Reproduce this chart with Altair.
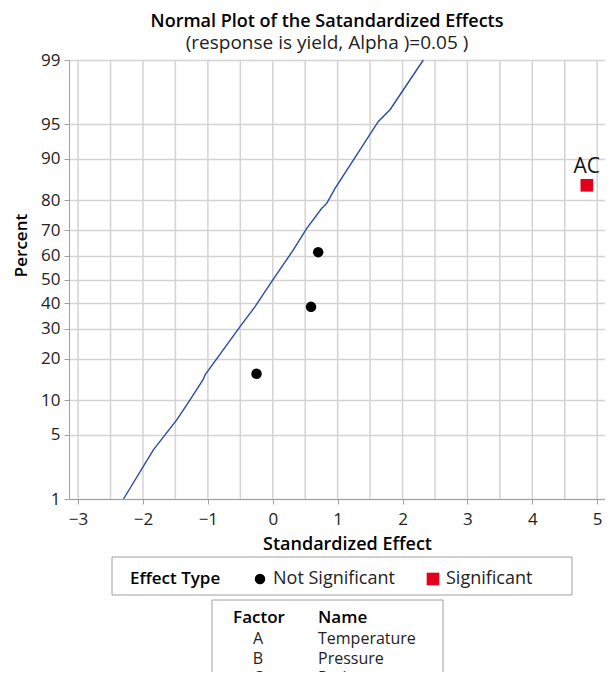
import altair as alt
import pandas as pd
from statistics import NormalDist

# ---- data ----
effects = [-0.25, 0.59, 0.70, 4.84]
percents = [15.9, 38.6, 61.4, 84.1]
effect_types = ["Not Significant", "Not Significant", "Not Significant", "Significant"]
point_labels = ["", "", "", "AC"]

line_effect = [-2.30, -1.84, -1.48, -1.305, -1.074, -1.043, -0.504, -0.273, 0.035,
               0.317, 0.524, 0.755, 0.832, 0.960, 1.627, 1.807, 2.32]
line_percent = [1.0, 3.55, 6.84, 9.55, 14.4, 15.6, 30.9, 38.7, 51.2,
                62.3, 70.6, 77.5, 79.0, 83.3, 95.3, 96.4, 99.0]

percent_ticks = [1, 5, 10, 20, 30, 40, 50, 60, 70, 80, 90, 95, 99]
x_ticks = [-3, -2, -1, 0, 1, 2, 3, 4, 5]
x_grid = [-3, -2.5, -2, -1.5, -1, -0.5, 0, 0.5, 1, 1.5, 2, 2.5, 3, 3.5, 4, 4.5, 5]

factors = ["A", "B", "C"]
factor_names = ["Temperature", "Pressure", "Ratio"]

# ---- scale helpers (probability scale) ----
nd = NormalDist()
z_ticks = [nd.inv_cdf(p / 100) for p in percent_ticks]

FONT = "Open Sans"
GRID = "#d3d3d3"
AXC = "#a0a0a0"

pts = pd.DataFrame({"effect": effects, "percent": percents,
                    "type": effect_types, "label": point_labels})
ln = pd.DataFrame({"effect": line_effect, "percent": line_percent,
                   "i": list(range(len(line_effect)))})
gr = pd.DataFrame({"g": x_grid})
one = pd.DataFrame({"a": [0]})

xscale = alt.Scale(domain=[-3.14, 5.12], nice=False, zero=False)
yscale = alt.Scale(domain=[z_ticks[0], z_ticks[-1]], nice=False, zero=False)

xaxis = alt.Axis(values=x_ticks, grid=False, title="Standardized Effect",
                 labelFontSize=17, titleFontSize=18, titleFontWeight=600,
                 tickSize=5, labelPadding=7, titlePadding=8,
                 titleX=278, titleAnchor="start", titleAlign="center",
                 domainColor=AXC, tickColor=AXC, labelColor="#222", titleColor="#000",
                 labelFont=FONT, titleFont=FONT)
yaxis = alt.Axis(values=z_ticks, grid=True, gridColor=GRID, gridWidth=1.5,
                 title="Percent",
                 labelExpr="format(cumulativeNormal(datum.value)*100, '.0f')",
                 labelFontSize=17, titleFontSize=17, titleFontWeight=600,
                 tickSize=5, labelPadding=4, titlePadding=10,
                 titleY=185, titleAlign="center",
                 domainColor=AXC, tickColor=AXC, labelColor="#222", titleColor="#000",
                 labelFont=FONT, titleFont=FONT)

legend = alt.Legend(orient="none", legendX=53, legendY=502, direction="horizontal",
                    titleOrient="left", titleFont=FONT, titleFontSize=17,
                    titleFontWeight=600, titleColor="#000", labelFont=FONT,
                    labelFontSize=18, labelColor="#222", padding=8,
                    titlePadding=30, columnPadding=29, symbolSize=110, labelOffset=4)

grid = alt.Chart(gr).mark_rule(color=GRID, strokeWidth=1.5).encode(
    x=alt.X("g:Q", scale=xscale, axis=xaxis)
)

line = alt.Chart(ln).transform_calculate(
    z="quantileNormal(datum.percent/100)"
).mark_line(color="#2a4b9f", strokeWidth=1.4).encode(
    x=alt.X("effect:Q", scale=xscale, axis=xaxis),
    y=alt.Y("z:Q", scale=yscale, axis=yaxis),
    order="i:Q",
)

points = alt.Chart(pts).transform_calculate(
    z="quantileNormal(datum.percent/100)"
).mark_point(filled=True, opacity=1).encode(
    x=alt.X("effect:Q", scale=xscale, axis=xaxis),
    y=alt.Y("z:Q", scale=yscale, axis=yaxis),
    color=alt.Color("type:N", title="Effect Type", legend=legend,
                    scale=alt.Scale(domain=["Not Significant", "Significant"],
                                    range=["#000000", "#e2001a"])),
    shape=alt.Shape("type:N", title="Effect Type", legend=legend,
                    scale=alt.Scale(domain=["Not Significant", "Significant"],
                                    range=["circle", "square"])),
    size=alt.Size("type:N", legend=None,
                  scale=alt.Scale(domain=["Not Significant", "Significant"],
                                  range=[110, 160])),
)

labels = alt.Chart(pts).transform_calculate(
    z="quantileNormal(datum.percent/100)"
).mark_text(font=FONT, fontSize=21, dy=-18, color="#111").encode(
    x=alt.X("effect:Q", scale=xscale, axis=xaxis),
    y=alt.Y("z:Q", scale=yscale, axis=yaxis),
    text="label:N",
)

# legend frame
legend_box = alt.Chart(one).mark_rect(fill="white", stroke=AXC, strokeWidth=1).encode(
    x=alt.value(43), x2=alt.value(503), y=alt.value(497), y2=alt.value(535)
)

# factor table (annotation box below the legend)
box = alt.Chart(one).mark_rect(fill="white", fillOpacity=0, stroke=AXC, strokeWidth=1).encode(
    x=alt.value(143), x2=alt.value(374), y=alt.value(540), y2=alt.value(720)
)
h1 = alt.Chart(one).mark_text(text="Factor", font=FONT, fontSize=17, fontWeight=600,
                              align="center", baseline="alphabetic", color="#000").encode(
    x=alt.value(190), y=alt.value(563))
h2 = alt.Chart(one).mark_text(text="Name", font=FONT, fontSize=17, fontWeight=600,
                              align="left", baseline="alphabetic", color="#000").encode(
    x=alt.value(249), y=alt.value(563))
c1 = alt.Chart(one).mark_text(text=factors, font=FONT, fontSize=16, lineHeight=19.5,
                              align="center", baseline="top", color="#222").encode(
    x=alt.value(189), y=alt.value(571))
c2 = alt.Chart(one).mark_text(text=factor_names, font=FONT, fontSize=16, lineHeight=19.5,
                              align="left", baseline="top", color="#222").encode(
    x=alt.value(249), y=alt.value(571))

chart = alt.layer(grid, line, points, labels, legend_box, box, h1, h2, c1, c2).properties(
    width=536, height=439,
    autosize=alt.AutoSizeParams(type="none"),
    padding={"left": 61, "top": 52, "right": 0, "bottom": 173},
    title=alt.TitleParams(
        text="Normal Plot of the Satandardized Effects",
        subtitle="(response is yield, Alpha )=0.05 )",
        anchor="middle", dx=-10, offset=-2,
        font=FONT, fontSize=18, fontWeight=600, color="#000",
        subtitleFont=FONT, subtitleFontSize=19, subtitleColor="#222",
        subtitlePadding=3,
    ),
).configure_view(stroke=None)

chart.save("out.html", embed_options={"renderer": "svg", "actions": False})
